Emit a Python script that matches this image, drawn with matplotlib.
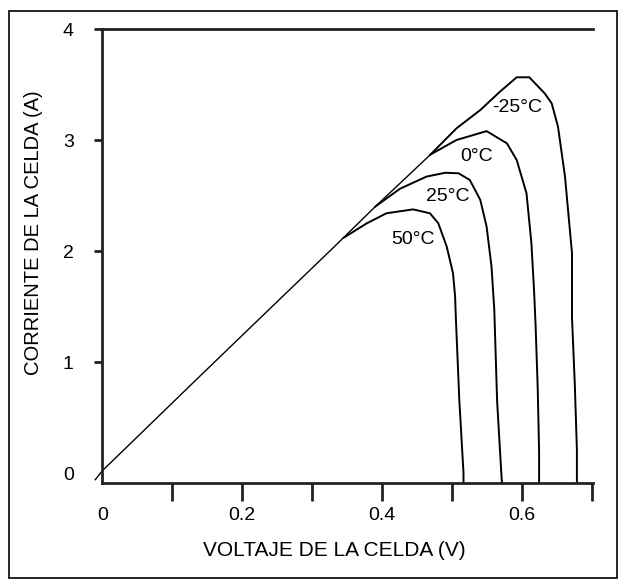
import matplotlib
matplotlib.use("Agg")
import matplotlib.pyplot as plt
from matplotlib.patches import Rectangle

# =============================================================================
# data (voltage in V, current in A)
# =============================================================================
# common straight part shared by all curves
env_v = [-0.01, 0.0, 0.139, 0.241, 0.33, 0.39, 0.469]
env_i = [-0.06, 0.02, 0.87, 1.49, 2.03, 2.40, 2.87]

m25_v = [0.469, 0.506, 0.540, 0.568, 0.592, 0.610, 0.632, 0.642, 0.651,
         0.661, 0.671, 0.671, 0.675, 0.678, 0.678]
m25_i = [2.87, 3.105, 3.27, 3.435, 3.565, 3.565, 3.42, 3.33, 3.12,
         2.67, 1.98, 1.40, 0.80, 0.21, -0.09]

c0_v = [0.469, 0.506, 0.549, 0.578, 0.592, 0.606, 0.613, 0.617, 0.619,
        0.622, 0.624, 0.624]
c0_i = [2.87, 3.0, 3.08, 2.97, 2.82, 2.52, 2.07, 1.62, 1.33, 0.77, 0.19, -0.09]

c25_v = [0.390, 0.425, 0.463, 0.490, 0.509, 0.525, 0.540, 0.549, 0.556,
         0.560, 0.564, 0.570, 0.571]
c25_i = [2.40, 2.56, 2.67, 2.705, 2.70, 2.64, 2.46, 2.22, 1.86,
         1.47, 0.65, 0.0, -0.09]

c50_v = [0.345, 0.378, 0.406, 0.444, 0.468, 0.480, 0.492, 0.501, 0.504,
         0.505, 0.510, 0.516, 0.516]
c50_i = [2.12, 2.25, 2.34, 2.375, 2.34, 2.25, 2.04, 1.80, 1.59,
         1.41, 0.66, 0.0, -0.09]

labels = ["-25°C", "0°C", "25°C", "50°C"]
label_v = [0.593, 0.535, 0.494, 0.444]
label_i = [3.29, 2.85, 2.49, 2.10]

x_ticks = [0.0, 0.1, 0.2, 0.3, 0.4, 0.5, 0.6, 0.7]
x_ticklabels = ["0", "", "0.2", "", "0.4", "", "0.6", ""]
y_ticks = [0, 1, 2, 3, 4]
y_ticklabels = ["0", "1", "2", "3", "4"]

# =============================================================================
# plot
# =============================================================================
plt.rcParams["font.family"] = ["Liberation Sans", "DejaVu Sans"]
plt.rcParams["font.size"] = 14

fig = plt.figure(figsize=(6.25, 5.86), dpi=100)
W, H = 625, 586
ax = fig.add_axes([102.3 / W, 1 - 483 / H, (593 - 102.3) / W, (483 - 29) / H])

ax.plot(env_v, env_i, color="black", lw=1.0, clip_on=False)
ax.plot(m25_v, m25_i, color="black", lw=1.4)
ax.plot(c0_v, c0_i, color="black", lw=1.4)
ax.plot(c25_v, c25_i, color="black", lw=1.4)
ax.plot(c50_v, c50_i, color="black", lw=1.4)

for txt, v, i in zip(labels, label_v, label_i):
    ax.text(v, i, txt, ha="center", va="center", fontsize=14)

ax.set_xlim(0, 0.701)
ax.set_ylim(-0.09, 4)
ax.spines["right"].set_visible(False)
for s in ["left", "bottom", "top"]:
    ax.spines[s].set_linewidth(2)
    ax.spines[s].set_color("#222222")

ax.set_xticks(x_ticks)
ax.set_xticklabels(x_ticklabels)
ax.set_yticks(y_ticks)
ax.set_yticklabels(y_ticklabels)
ax.tick_params(axis="x", direction="out", length=13, width=2, pad=4,
               color="#222222")
ax.tick_params(axis="y", direction="out", length=5.5, width=2, pad=15,
               color="#222222")
ax.xaxis.get_major_ticks()[0].tick1line.set_visible(False)
ax.yaxis.get_major_ticks()[0].tick1line.set_visible(False)

fig.text(334 / W, 1 - 550 / H, "VOLTAJE DE LA CELDA (V)",
         ha="center", va="center", fontsize=15)
fig.text(34 / W, 1 - 233 / H, "CORRIENTE DE LA CELDA (A)",
         ha="center", va="center", rotation=90, fontsize=14.5)

# thin frame around the whole figure
fig.patches.append(Rectangle((9 / W, 1 - 578 / H), (617 - 9) / W, (578 - 11) / H,
                             transform=fig.transFigure, fill=False,
                             edgecolor="black", lw=1.2))

fig.savefig("out.png", dpi=100)
